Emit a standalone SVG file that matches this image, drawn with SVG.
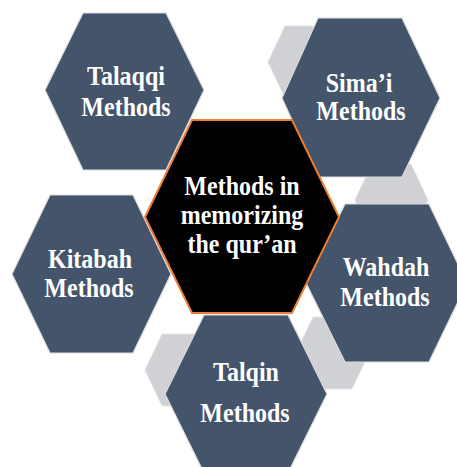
<svg xmlns="http://www.w3.org/2000/svg" width="457" height="467" viewBox="0 0 457 467">
  <style>
    .hex { fill: #44546A; stroke: #dcdcdc; stroke-width: 1.2; stroke-linejoin: miter; }
    .link { fill: #D0D1D4; stroke: #e4e4e4; stroke-width: 1; }
    .core { fill: #000000; stroke: #ED7D31; stroke-width: 2; stroke-linejoin: miter; }
    .lbl { font-family: "Liberation Serif", "Times New Roman", serif; font-weight: bold; font-size: 24px; fill: #ffffff; text-anchor: middle; }
  </style>

  <rect x="0" y="0" width="457" height="467" fill="#ffffff"/>

  <!-- small grey linking hexagons sitting behind the outer nodes -->
  <g id="connectors">
    <polygon class="link" points="268,62 285,26 324,26 341,62 324,98 285,98"/>
    <polygon class="link" points="355,200 372,164 411,164 428,200 411,236 372,236"/>
    <polygon class="link" points="145,370 162,334 201,334 218,370 201,406 162,406"/>
    <polygon class="link" points="296,353 313,317 352,317 369,353 352,389 313,389"/>
  </g>

  <g id="talaqqi">
    <polygon class="hex" points="45,90 83,13 166,13 204,90 166,170 83,170"/>
    <text class="lbl" transform="translate(126,85) scale(1,1.12)">Talaqqi</text>
    <text class="lbl" transform="translate(126,116) scale(1,1.12)">Methods</text>
  </g>

  <g id="simai">
    <polygon class="hex" points="282,98 318,18 402,18 440,98 402,177 318,177"/>
    <text class="lbl" transform="translate(359,92) scale(1,1.12)">Sima’i</text>
    <text class="lbl" transform="translate(361,120) scale(1,1.12)">Methods</text>
  </g>

  <g id="kitabah">
    <polygon class="hex" points="12,274 50,195 133,195 171,274 133,353 50,353"/>
    <text class="lbl" transform="translate(90,268) scale(1,1.12)">Kitabah</text>
    <text class="lbl" transform="translate(89,297) scale(1,1.12)">Methods</text>
  </g>

  <g id="wahdah">
    <polygon class="hex" points="306,283 345,204 429,204 467,283 429,362 345,362"/>
    <text class="lbl" transform="translate(386,276) scale(1,1.12)">Wahdah</text>
    <text class="lbl" transform="translate(385,306) scale(1,1.12)">Methods</text>
  </g>

  <g id="talqin">
    <polygon class="hex" points="165,394 204,315 288,315 327,394 288,473 204,473"/>
    <text class="lbl" transform="translate(246,381) scale(1,1.12)">Talqin</text>
    <text class="lbl" transform="translate(245,422) scale(1,1.12)">Methods</text>
  </g>

  <g id="center">
    <polygon class="core" points="145,217 192,120 292,120 339,217 292,313 192,313"/>
    <text class="lbl" transform="translate(242,195) scale(1,1.12)">Methods in</text>
    <text class="lbl" transform="translate(242,224) scale(1,1.12)">memorizing</text>
    <text class="lbl" transform="translate(242,253) scale(1,1.12)">the qur’an</text>
  </g>
</svg>
